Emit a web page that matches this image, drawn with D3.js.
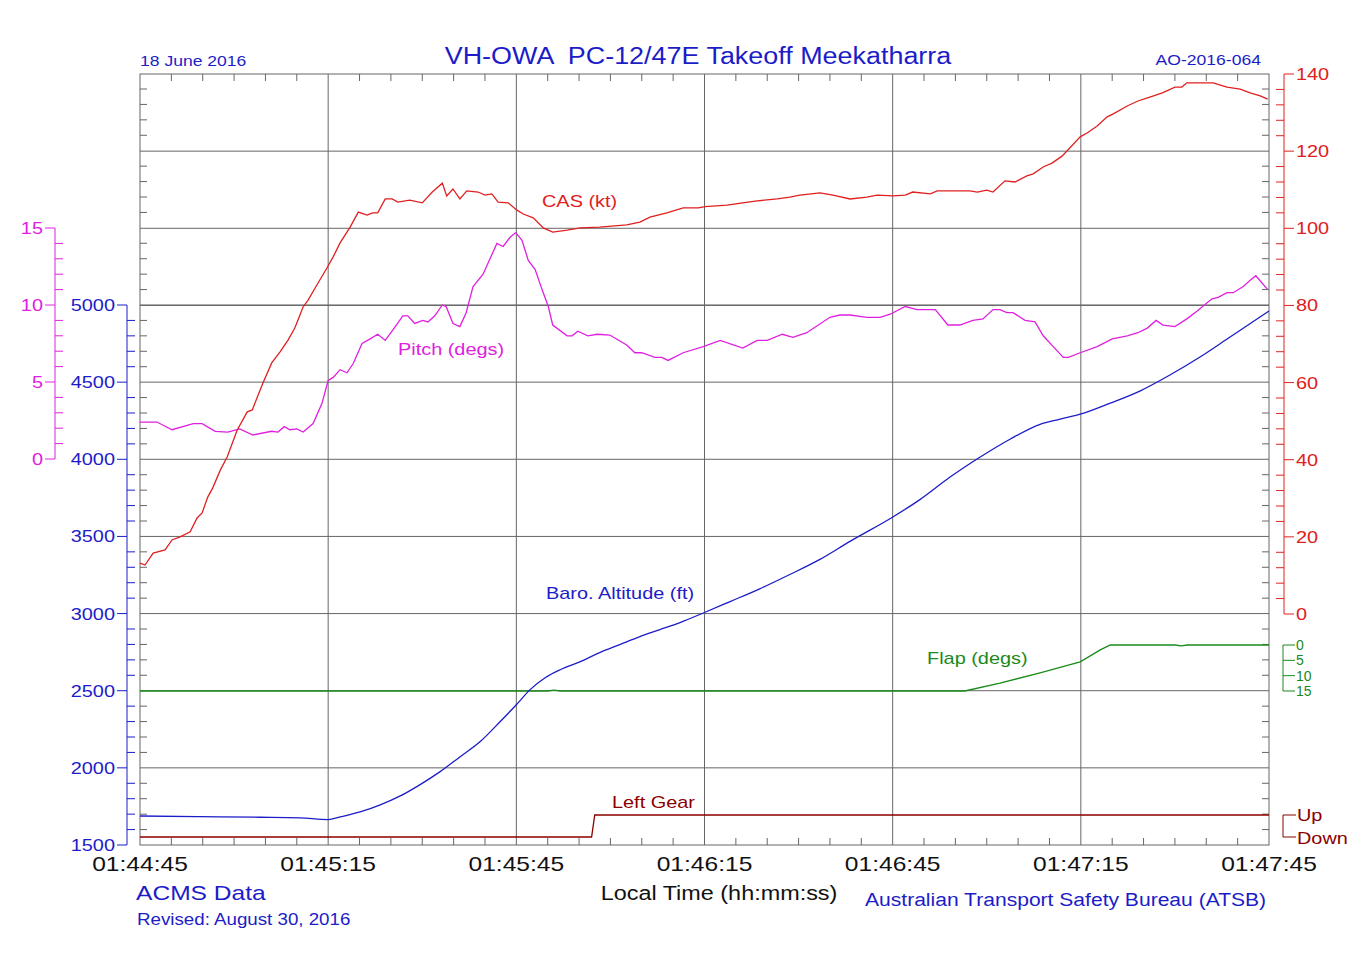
<!DOCTYPE html>
<html><head><meta charset="utf-8">
<script src="https://cdn.jsdelivr.net/npm/d3@7"></script>
<style>body{margin:0;background:#fff}text{font-family:"Liberation Sans",Arial,sans-serif}</style>
</head><body>
<svg id="c" width="1369" height="976"></svg>
<script>
const timeTicks = ["01:44:45","01:45:15","01:45:45","01:46:15","01:46:45","01:47:15","01:47:45"];
// [seconds since 01:44:45, value]
const cas = [[0,13.2],[0.8,12.7],[2.1,15.8],[4,16.6],[5.1,19.2],[6.4,20],[8,21.3],[9.1,24.9],[9.9,26.2],[10.8,30.3],[11.6,32.7],[12.8,37.3],[13.9,40.7],[15.5,47.7],[17.1,52.4],[17.9,52.9],[19.6,59.9],[21,65.1],[22.3,67.9],[23.6,71],[24.7,74.2],[26,79.6],[26.8,81.4],[28.2,85.3],[29.8,89.7],[30.8,92.6],[31.9,96.2],[33.5,100.3],[34.8,104.2],[36.2,103.4],[37.1,104],[37.9,104],[39.1,107.6],[40.2,107.6],[41.1,106.8],[43,107.3],[45,106.6],[46.6,109.4],[48.2,111.7],[48.9,108.4],[49.9,110.2],[51,107.6],[52.1,109.7],[53.9,109.4],[55,108.6],[56.1,108.9],[57.1,106.8],[58.7,106.6],[60.1,104.7],[61.1,103.7],[62.7,102.7],[64.3,100.1],[65.8,99],[68.1,99.5],[70.2,100.1],[73.3,100.3],[77.6,100.9],[79.7,101.6],[81.3,102.9],[84,104],[86.6,105.3],[89,105.3],[90.1,105.6],[93.6,106],[96.1,106.6],[98.4,107.1],[101.6,107.6],[103.6,108.1],[105.2,108.6],[108.4,109.2],[110.5,108.6],[113.2,107.6],[115.9,108.1],[117.5,108.6],[120.1,108.4],[122,108.6],[123.2,109.4],[126,108.9],[127.1,109.7],[129.1,109.7],[132.3,109.7],[133.5,109.4],[135,109.9],[136,109.4],[137.9,112.3],[139.5,112],[141.4,113.6],[142.4,114.1],[144,115.9],[145.4,116.9],[147,118.7],[149.9,123.7],[151,124.7],[152.6,126.5],[154.2,128.9],[155.1,129.6],[157.4,131.7],[159.1,133],[161,134],[163,135.1],[165,136.6],[166.1,136.6],[166.9,137.7],[171.1,137.7],[173.3,136.6],[175.4,136.1],[177,135.1],[178.6,134.3],[179.8,133.5]];
const pitch = [[0,2.4],[2.7,2.4],[5.1,1.9],[8.5,2.3],[9.9,2.3],[12,1.8],[14,1.75],[15.9,1.95],[18,1.56],[21,1.8],[22,1.75],[23,2.1],[23.9,1.9],[25,1.95],[26,1.75],[27.6,2.3],[29,3.6],[30,5.1],[30.8,5.3],[31.9,5.8],[33,5.6],[34,6.2],[35.4,7.5],[36.7,7.8],[37.9,8.1],[39.1,7.7],[40.7,8.6],[41.9,9.3],[42.7,9.3],[43.8,8.8],[45.1,9],[45.9,8.9],[47,9.3],[48.2,10],[48.8,9.9],[49.9,8.8],[51,8.6],[52,9.5],[53.1,11.2],[54.7,12],[55.8,13],[56.9,14],[57.9,13.8],[59,14.4],[59.9,14.7],[60.9,14.2],[61.9,12.9],[63,12.3],[64.1,11],[65.1,9.9],[65.8,8.7],[68.1,8],[68.9,8],[69.8,8.3],[71.4,8],[72.9,8.1],[74.9,8.05],[77.6,7.4],[78.9,6.9],[80,6.9],[82.1,6.6],[83.2,6.6],[84.2,6.4],[86.6,6.9],[89.8,7.3],[92.5,7.7],[96.1,7.2],[98.4,7.7],[100,7.7],[102.4,8.1],[104.1,7.9],[106.3,8.2],[110,9.2],[111.6,9.35],[113.2,9.35],[115.9,9.2],[118,9.2],[119.6,9.4],[122,9.9],[123.9,9.7],[126.8,9.7],[128.8,8.7],[130.7,8.7],[132.8,9],[134.4,9.1],[136,9.7],[137.1,9.7],[138.2,9.5],[139.2,9.5],[141.1,9],[142.7,8.9],[144,8],[145.6,7.3],[147.2,6.6],[148,6.6],[149.9,6.9],[152.6,7.3],[155,7.8],[157.4,8],[159.1,8.2],[160.6,8.5],[162,9],[163.1,8.7],[165,8.6],[166.9,9.1],[168.5,9.6],[170.9,10.4],[171.9,10.5],[173.3,10.8],[174.3,10.8],[175.9,11.2],[177,11.6],[177.9,11.9],[179.8,11]];
const altitude = [[0,1688],[9.6,1684],[19.1,1680],[25.5,1676],[30,1665],[31.9,1682],[35.1,1714],[38.3,1760],[41.5,1818],[44.6,1890],[47.8,1974],[51,2071],[54.2,2169],[57.4,2299],[60,2409],[62.2,2507],[64.6,2584],[67,2636],[70.2,2688],[73.3,2747],[76.5,2799],[79.7,2851],[82.9,2896],[86.1,2942],[90,3007],[94.1,3078],[98.9,3162],[103.6,3253],[108.4,3351],[113.2,3468],[119.9,3623],[124.4,3740],[129.1,3883],[133.9,4013],[138.7,4130],[143.5,4227],[146.7,4260],[149.9,4292],[154.7,4364],[159.4,4442],[164.2,4546],[169,4663],[173.8,4793],[180,4961]];
const flap = [[0,15],[65,15],[66,14.7],[67,15],[131.5,15],[137.1,12.4],[143.5,9.1],[149.9,5.5],[153.1,1.6],[154.7,0],[165,0],[166,0.3],[167,0],[180,0]];
const gear = [[0,0],[72,0],[72.5,1],[180,1]]; // 0=Down,1=Up

const svg = d3.select("#c");
const L=140,R=1269,T=74,B=845;
const x = d3.scaleLinear().domain([0,180]).range([L,R]);
const yAlt = d3.scaleLinear().domain([1500,5000]).range([B,305]);
const yCas = d3.scaleLinear().domain([0,140]).range([614,T]);
const yPitch = d3.scaleLinear().domain([0,15]).range([459,228]);
const yFlap = d3.scaleLinear().domain([0,15]).range([645,691]);
const yGear = d3.scaleLinear().domain([0,1]).range([837,815]);
const BLUE="#1c1cc8", RED="#e02020", MAG="#e020e0", GRN="#1a8a1a", GEAR="#8b0000", GRID="#666";

const g = svg.append("g");
for (let s=30;s<180;s+=30) g.append("line").attr("x1",x(s)).attr("x2",x(s)).attr("y1",T).attr("y2",B).attr("stroke",GRID);
for (let a=2000;a<=5000;a+=500) g.append("line").attr("x1",L).attr("x2",R).attr("y1",yAlt(a)).attr("y2",yAlt(a)).attr("stroke",GRID);
for (let c=80;c<=120;c+=20) g.append("line").attr("x1",L).attr("x2",R).attr("y1",yCas(c)).attr("y2",yCas(c)).attr("stroke",GRID);
g.append("rect").attr("x",L).attr("y",T).attr("width",R-L).attr("height",B-T).attr("fill","none").attr("stroke",GRID);
for (let s=5;s<180;s+=5){ if(s%30===0) continue;
  g.append("line").attr("x1",x(s)).attr("x2",x(s)).attr("y1",T).attr("y2",T+7).attr("stroke",GRID);
  g.append("line").attr("x1",x(s)).attr("x2",x(s)).attr("y1",B).attr("y2",B-7).attr("stroke",GRID);}
for (let a=1600;a<6500;a+=100){ const yy=yAlt(a); if(yy<T+2) break; if(a%500===0) continue;
  g.append("line").attr("x1",L).attr("x2",L+7).attr("y1",yy).attr("y2",yy).attr("stroke",GRID);
  g.append("line").attr("x1",R).attr("x2",R-7).attr("y1",yy).attr("y2",yy).attr("stroke",GRID);}

function vAxis(scale, xpos, domain, step, minor, color, side){
  const a=svg.append("g");
  a.append("line").attr("x1",xpos).attr("x2",xpos).attr("y1",scale(domain[0])).attr("y2",scale(domain[1])).attr("stroke",color);
  const dir = side==="left"?-1:1;
  for(let v=domain[0]; v<=domain[1]+1e-9; v+=minor){
    const isMaj = Math.abs(v/step-Math.round(v/step))<1e-6;
    const yy=scale(v);
    if(isMaj){
      a.append("line").attr("x1",xpos).attr("x2",xpos+dir*10).attr("y1",yy).attr("y2",yy).attr("stroke",color);
      a.append("text").attr("class","w").attr("x",xpos+dir*12).attr("y",yy+6).attr("text-anchor",side==="left"?"end":"start")
        .attr("fill",color).attr("font-size",17).text(v);
    } else {
      a.append("line").attr("x1",xpos).attr("x2",xpos-dir*8).attr("y1",yy).attr("y2",yy).attr("stroke",color);
    }
  }
}
vAxis(yAlt,127,[1500,5000],500,100,BLUE,"left");
vAxis(yPitch,55,[0,15],5,1,MAG,"left");
vAxis(yCas,1284,[0,140],20,4,RED,"right");
const fa=svg.append("g");
fa.append("line").attr("x1",1283).attr("x2",1283).attr("y1",yFlap(0)).attr("y2",yFlap(15)).attr("stroke",GRN);
[0,5,10,15].forEach(v=>{fa.append("line").attr("x1",1283).attr("x2",1295).attr("y1",yFlap(v)).attr("y2",yFlap(v)).attr("stroke",GRN);
 fa.append("text").attr("x",1296).attr("y",yFlap(v)+5).attr("fill",GRN).attr("font-size",14).text(v);});
const ga=svg.append("g");
ga.append("path").attr("d",`M1296,${yGear(1)}H1283V${yGear(0)}H1296`).attr("fill","none").attr("stroke",GEAR);
ga.append("text").attr("class","w").attr("x",1297).attr("y",yGear(1)+6).attr("fill",GEAR).attr("font-size",17).text("Up");
ga.append("text").attr("class","w").attr("x",1297).attr("y",yGear(0)+7).attr("fill",GEAR).attr("font-size",17).text("Down");

const line=(ys)=>d3.line().x(d=>x(d[0])).y(d=>ys(d[1]));
svg.append("path").datum(gear).attr("d",line(yGear)).attr("fill","none").attr("stroke",GEAR).attr("stroke-width",1.3);
svg.append("path").datum(flap).attr("d",line(yFlap)).attr("fill","none").attr("stroke",GRN).attr("stroke-width",1.3);
svg.append("path").datum(altitude).attr("d",d3.line().curve(d3.curveMonotoneX).x(d=>x(d[0])).y(d=>yAlt(d[1]))).attr("fill","none").attr("stroke",BLUE).attr("stroke-width",1.3);
svg.append("path").datum(pitch).attr("d",line(yPitch)).attr("fill","none").attr("stroke",MAG).attr("stroke-width",1.3);
svg.append("path").datum(cas).attr("d",line(yCas)).attr("fill","none").attr("stroke",RED).attr("stroke-width",1.3);

timeTicks.forEach((t,i)=>svg.append("text").attr("class","w").attr("x",x(i*30)).attr("y",871).attr("text-anchor","middle").attr("font-size",21).attr("fill","#111").text(t));

const lab=(tx,xx,yy,c)=>svg.append("text").attr("class","w").attr("x",xx).attr("y",yy).attr("fill",c).attr("font-size",17).text(tx);
lab("CAS (kt)",542,207,RED); lab("Pitch (degs)",398,355,MAG); lab("Baro. Altitude (ft)",546,599,BLUE);
lab("Flap (degs)",927,664,GRN); lab("Left Gear",612,808,GEAR);

const T2=(tx,xx,yy,anc,c,fs)=>svg.append("text").attr("class","w").attr("x",xx).attr("y",yy).attr("text-anchor",anc).attr("fill",c).attr("font-size",fs).text(tx);
T2("VH-OWA  PC-12/47E Takeoff Meekatharra",698,64,"middle",BLUE,23).attr("xml:space","preserve").style("white-space","pre");
T2("18 June 2016",140,66,"start",BLUE,15);
T2("AO-2016-064",1261,65,"end",BLUE,15);
T2("ACMS Data",136,900,"start",BLUE,21);
T2("Revised: August 30, 2016",137,925,"start",BLUE,16);
T2("Local Time (hh:mm:ss)",719,900,"middle","#111",20);
T2("Australian Transport Safety Bureau (ATSB)",865,906,"start",BLUE,18);

// reference type is wider than Liberation Sans: stretch horizontally
svg.selectAll("text.w").each(function(){
  const n=this; const w=n.getComputedTextLength();
  n.setAttribute("textLength", w*1.17); n.setAttribute("lengthAdjust","spacingAndGlyphs");
});
</script></body></html>
